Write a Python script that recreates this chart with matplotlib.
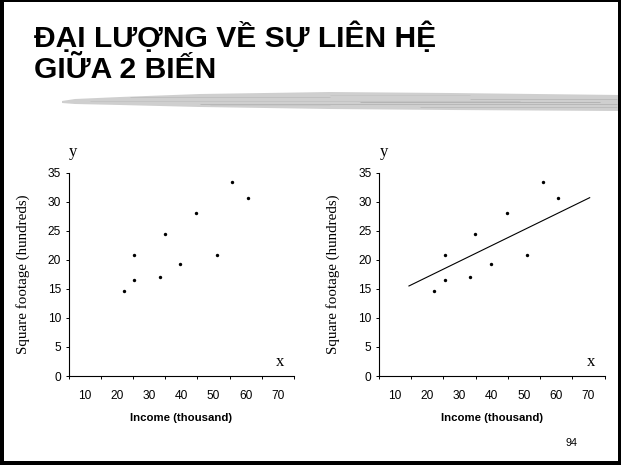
import matplotlib
matplotlib.use("Agg")
import matplotlib.pyplot as plt
from matplotlib import font_manager
from matplotlib.patches import Rectangle, Polygon

# data
income = [22.1, 25.4, 25.4, 33.3, 34.9, 39.7, 44.7, 51.0, 55.8, 60.6]
sqft = [14.7, 16.6, 20.9, 17.0, 24.5, 19.2, 28.1, 20.9, 33.4, 30.7]
trend_x = [14.3, 70.4]
trend_y = [15.5, 30.7]

x_labels = [10, 20, 30, 40, 50, 60, 70]
x_marks = [5, 15, 25, 35, 45, 55, 65, 75]
y_ticks = [0, 5, 10, 15, 20, 25, 30, 35]

title_lines = ["ĐẠI LƯỢNG VỀ SỰ LIÊN HỆ", "GIỮA 2 BIẾN"]
x_title = "Income (thousand)"
y_title = "Square footage (hundreds)"
page_no = "94"

names = {f.name for f in font_manager.fontManager.ttflist}
narrow = "Liberation Sans Narrow" if "Liberation Sans Narrow" in names else "Liberation Sans"
SANS = "Liberation Sans"
SERIF = "Liberation Serif"

W, H = 621, 465
fig = plt.figure(figsize=(W / 100, H / 100), dpi=100)
fig.patch.set_facecolor("white")

# pixel-space layer for the slide decoration
bg = fig.add_axes([0, 0, 1, 1])
bg.set_xlim(0, W)
bg.set_ylim(H, 0)
bg.axis("off")

# grey brush stroke under the title
stroke = Polygon([(62, 101), (75, 99), (120, 97), (200, 94), (330, 92), (450, 93),
                  (621, 95), (621, 111), (450, 110), (330, 109), (200, 107),
                  (120, 105), (75, 104), (62, 103)],
                 closed=True, facecolor="#cfcfcf", edgecolor="none")
bg.add_patch(stroke)
for y0, x0, x1, c in [(97.5, 130, 330, "#c0c0c0"), (101, 90, 520, "#c4c4c4"),
                      (104, 200, 617, "#b8b8b8"), (107.5, 420, 617, "#bdbdbd"),
                      (95, 330, 470, "#c6c6c6"), (99, 470, 617, "#bbbbbb"),
                      (102.5, 360, 600, "#b4b4b4"), (105.5, 210, 330, "#c8c8c8")]:
    bg.plot([x0, x1], [y0, y0], color=c, lw=0.7, solid_capstyle="butt")

# slide frame
for r in [(0, 0, 4, H), (0, 0, W, 2), (W - 3, 0, 3, H), (0, H - 4, W, 4)]:
    bg.add_patch(Rectangle((r[0], r[1]), r[2], r[3], facecolor="black",
                           edgecolor="none", zorder=5))

# title
for i, line in enumerate(title_lines):
    fig.text(34 / W, 1 - (46.7 + 31.6 * i) / H, line, fontsize=21.6,
             fontweight="bold", family=SANS, va="baseline", ha="left")

fig.text(572 / W, 1 - 443 / H, page_no, fontsize=7.8, family=SANS,
         ha="center", va="center")


def scatter_panel(left, with_line):
    ax = fig.add_axes([left / W, 1 - 376 / H, 225.5 / W, 203.3 / H])
    ax.set_facecolor("none")
    ax.scatter(income, sqft, s=6, color="black", zorder=3, linewidths=0)
    if with_line:
        ax.plot(trend_x, trend_y, color="black", lw=0.8)
    ax.set_xlim(5, 75)
    ax.set_ylim(0, 35)
    for s in ["top", "right"]:
        ax.spines[s].set_visible(False)
    for s in ["left", "bottom"]:
        ax.spines[s].set_linewidth(0.8)
    ax.set_yticks(y_ticks)
    ax.tick_params(axis="y", length=2.5, width=0.7, pad=3, labelsize=8.6)
    # tick marks between categories, labels centred on values
    ax.set_xticks(x_marks, minor=True)
    ax.set_xticks(x_labels)
    ax.tick_params(axis="x", which="minor", length=2.5, width=0.7, direction="out")
    ax.tick_params(axis="x", which="major", length=0, pad=10, labelsize=8.6)
    for lab in ax.get_xticklabels() + ax.get_yticklabels():
        lab.set_family(narrow)
    ax.set_xlabel(x_title, fontsize=8.2, fontweight="bold", family=narrow, labelpad=8)
    ax.set_ylabel(y_title, fontsize=10.8, family=SERIF, labelpad=13)
    ax.text(0.02, 1.10, "y", transform=ax.transAxes, fontsize=12, family=SERIF,
            ha="center", va="center")
    ax.text(0.94, 0.07, "x", transform=ax.transAxes, fontsize=12, family=SERIF,
            ha="center", va="center")
    return ax


scatter_panel(68.5, False)
scatter_panel(379, True)

fig.savefig("out.png", dpi=100)
